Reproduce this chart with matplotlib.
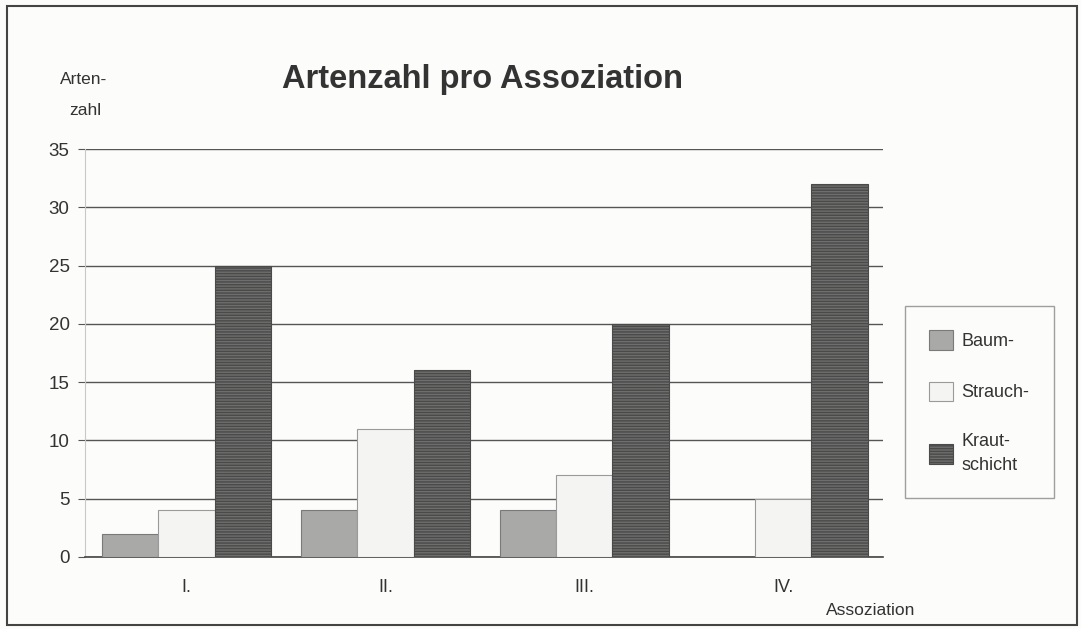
import numpy as np
import matplotlib.pyplot as plt
from matplotlib.patches import Rectangle

plt.rcParams['font.family'] = ['Liberation Sans', 'DejaVu Sans']

# data
assoziationen = ["I.", "II.", "III.", "IV."]
baum = [2, 4, 4, 0]
strauch = [4, 11, 7, 5]
kraut = [25, 16, 20, 32]
serien = ["Baum-", "Strauch-", "Kraut-\nschicht"]
yticks = [0, 5, 10, 15, 20, 25, 30, 35]

bg = "#fcfcfa"
fig = plt.figure(figsize=(10.81, 6.29), dpi=100, facecolor=bg)
ax = fig.add_axes([0.0786, 0.1145, 0.738, 0.6486], facecolor=bg)

x = np.arange(len(assoziationen))
w = 0.283
b1 = ax.bar(x - w, baum, w, color="#a9a9a7", edgecolor="#7a7a7a", lw=0.8, zorder=3)
b2 = ax.bar(x, strauch, w, color="#f4f4f2", edgecolor="#9a9a9a", lw=0.8, zorder=3)
b3 = ax.bar(x + w, kraut, w, color="#6e6e6c", edgecolor="#4a4a4a", lw=0.8,
            hatch="------", zorder=3)

ax.set_xlim(-0.51, 3.5)
ax.set_ylim(0, 35)
ax.set_yticks(yticks)
ax.yaxis.grid(True, color="#555555", lw=1.0, zorder=0)
ax.tick_params(axis="y", length=5, color="#555555", labelsize=13.5, colors="#333333", pad=6)
ax.tick_params(axis="x", length=0, labelsize=13, colors="#333333", pad=16)
ax.set_xticks(x)
ax.set_xticklabels(assoziationen)
for s in ["top", "right"]:
    ax.spines[s].set_visible(False)
ax.spines["left"].set_color("#c8c8c8")
ax.spines["bottom"].set_color("#444444")
ax.spines["bottom"].set_linewidth(1.2)

fig.text(0.0555, 0.873, "Arten-", fontsize=12.5, color="#333333", ha="left", va="center")
fig.text(0.0645, 0.825, "zahl", fontsize=12.5, color="#333333", ha="left", va="center")
fig.text(0.446, 0.874, "Artenzahl pro Assoziation", fontsize=23.5, fontweight="bold",
         color="#333333", ha="center", va="center")
fig.text(0.805, 0.030, "Assoziation", fontsize=12.5, color="#333333", ha="center", va="center")

leg = fig.legend([b1, b2, b3], serien, loc="upper left",
                 bbox_to_anchor=(0.837, 0.514), frameon=True, fancybox=False,
                 fontsize=13, labelspacing=1.75, handlelength=1.3, handleheight=1.3,
                 borderpad=1.35, handletextpad=0.5, borderaxespad=0)
leg.get_frame().set_edgecolor("#888888")
leg.get_frame().set_facecolor(bg)
for t in leg.get_texts():
    t.set_color("#333333")
    t.set_linespacing(1.5)

# outer frame
fig.patches.append(Rectangle((0.0065, 0.006), 0.99, 0.984, transform=fig.transFigure,
                             fill=False, edgecolor="#444444", lw=1.5))

fig.savefig("out.png", dpi=100, facecolor=bg)
